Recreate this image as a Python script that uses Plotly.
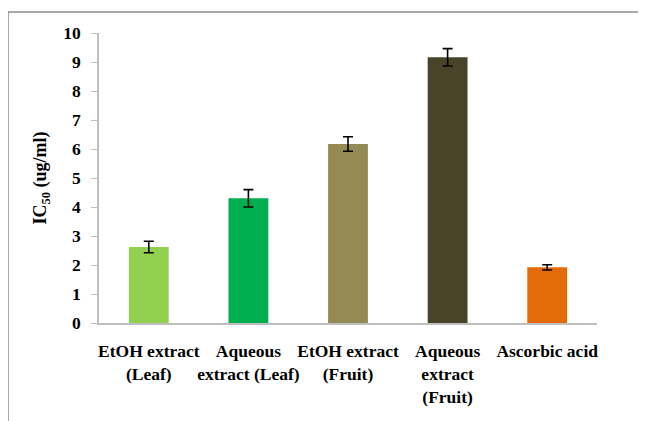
import plotly.graph_objects as go

categories = ["EtOH extract<br>(Leaf)", "Aqueous<br>extract (Leaf)", "EtOH extract<br>(Fruit)",
              "Aqueous<br>extract<br>(Fruit)", "Ascorbic acid"]
values = [2.62, 4.30, 6.17, 9.16, 1.92]
errors = [0.20, 0.30, 0.25, 0.30, 0.09]
colors = ["#92D050", "#00B050", "#948A54", "#494429", "#E36C09"]
y_ticks = [0, 1, 2, 3, 4, 5, 6, 7, 8, 9, 10]

W, H = 646, 421
OFF = 8  # page body offset
L, T = 99 - OFF, 33 - OFF
pw, ph = 498, 290
R = W - L - pw
B = H - T - ph

font = "serif"


def bold(s):
    return "<br>".join("<b>" + part + "</b>" for part in str(s).split("<br>"))


fig = go.Figure(go.Bar(
    x=categories, y=values,
    marker=dict(color=colors, line=dict(width=0)),
    error_y=dict(type="data", array=errors, color="black", thickness=1.6, width=5),
    width=0.4,
))

def px_x(p):
    return (p - OFF - L) / pw

def px_y(p):
    return (T + ph - (p - OFF)) / ph

fig.update_layout(
    width=W, height=H,
    margin=dict(l=L, r=R, t=T, b=B, autoexpand=False),
    paper_bgcolor="white", plot_bgcolor="white",
    showlegend=False,
    font=dict(family=font, size=17, color="black"),
    xaxis=dict(
        showline=True, linecolor="#BFBFBF", linewidth=2,
        ticks="", tickangle=0, automargin=False,
        tickvals=categories, ticktext=[bold(c) for c in categories],
        tickfont=dict(family=font, size=17.5, color="black"),
        ticklabelstandoff=11,
        range=[-0.5, 4.5],
    ),
    yaxis=dict(
        range=[0, 10], tickvals=y_ticks, ticktext=[bold(v) for v in y_ticks],
        showgrid=False, zeroline=False,
        showline=True, linecolor="#BFBFBF", linewidth=1.5, automargin=False,
        ticks="outside", ticklen=6, tickcolor="#BFBFBF", tickwidth=1,
        tickfont=dict(family=font, size=17.5, color="black"),
        ticklabelstandoff=7,
        title=dict(text="<b>IC<sub>50</sub> (ug/ml)</b>", font=dict(family=font, size=18, color="black"),
                   standoff=12),
    ),
    shapes=[
        dict(type="line", xref="paper", yref="paper",
             x0=px_x(8), x1=px_x(W + 10), y0=px_y(12), y1=px_y(12),
             line=dict(color="#8C8C8C", width=1.5)),
        dict(type="line", xref="paper", yref="paper",
             x0=px_x(8), x1=px_x(8), y0=px_y(12), y1=px_y(H + 10),
             line=dict(color="#8C8C8C", width=1.5)),
    ],
)

fig.write_html("out.html")
